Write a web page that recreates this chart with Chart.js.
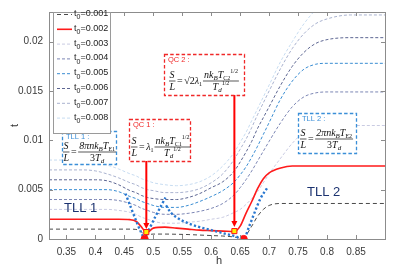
<!DOCTYPE html>
<html>
<head>
<meta charset="utf-8">
<script src="https://cdn.jsdelivr.net/npm/chart.js@4.4.0/dist/chart.umd.min.js"></script>
<style>
  body { margin: 0; background: #fff; }
</style>
</head>
<body>
<canvas id="chart" width="415" height="269"></canvas>
<script>
// h values shared by the eight t0 curves
const hGrid = [0.32, 0.38, 0.40, 0.42, 0.44, 0.46, 0.47, 0.48, 0.485, 0.49, 0.50, 0.52, 0.54, 0.56, 0.58, 0.60,
  0.62, 0.64, 0.65, 0.66, 0.67, 0.68, 0.69, 0.70, 0.72, 0.74, 0.76, 0.78, 0.80, 0.84, 0.90];

const t0Labels = ['0.001', '0.002', '0.003', '0.004', '0.005', '0.006', '0.007', '0.008'];

const curve1 = [0.001, 0.001, 0.001, 0.001, 0.001, 0.001, 0.00097, 0.0007, 0.0003, 0.0004, 0.0005, 0.0005, 0.00048, 0.00045, 0.0004, 0.00035,
  0.0003, 0.0002, 0.0001, 0.0004, 0.0013, 0.0023, 0.003, 0.0034, 0.0036, 0.0036, 0.0036, 0.0036, 0.0036, 0.0036, 0.0036];
const curve2 = [0.002, 0.002, 0.002, 0.002, 0.002, 0.00196, 0.0018, 0.0012, 0.0008, 0.0007, 0.0011, 0.0012, 0.0011, 0.001, 0.0009, 0.00085,
  0.0008, 0.00075, 0.0013, 0.0026, 0.0038, 0.0051, 0.0061, 0.0067, 0.0072, 0.0074, 0.0074, 0.0074, 0.0074, 0.0074, 0.0074];
const curve3 = [0.003, 0.003, 0.003, 0.003, 0.0029, 0.0027, 0.0025, 0.0022, 0.0021, 0.002, 0.0018, 0.0016, 0.0016, 0.0017, 0.0018, 0.002,
  0.0022, 0.0027, 0.003, 0.0035, 0.0041, 0.0048, 0.0057, 0.0066, 0.0082, 0.0097, 0.0108, 0.0113, 0.0115, 0.0115, 0.0115];
const curve4 = [0.004, 0.004, 0.004, 0.004, 0.0039, 0.0036, 0.0034, 0.0031, 0.003, 0.0029, 0.0027, 0.0025, 0.0025, 0.0026, 0.0028, 0.0031,
  0.0036, 0.0045, 0.0052, 0.006, 0.0069, 0.0079, 0.0089, 0.0099, 0.0118, 0.0134, 0.0144, 0.0148, 0.0149, 0.0149, 0.0149];
const curve5 = [0.005, 0.005, 0.005, 0.005, 0.0048, 0.0043, 0.0041, 0.0038, 0.0037, 0.0036, 0.0034, 0.0032, 0.0032, 0.0034, 0.0038, 0.0043,
  0.0049, 0.0058, 0.0065, 0.0073, 0.0083, 0.0094, 0.0106, 0.0118, 0.0142, 0.016, 0.0172, 0.0177, 0.0178, 0.0178, 0.0178];
const curve6 = [0.006, 0.006, 0.006, 0.0059, 0.0055, 0.0049, 0.0047, 0.0044, 0.0043, 0.0042, 0.0041, 0.004, 0.004, 0.0042, 0.0046, 0.0052,
  0.0058, 0.0069, 0.0078, 0.0088, 0.0099, 0.0112, 0.0123, 0.0134, 0.0156, 0.0175, 0.0189, 0.0198, 0.0202, 0.0204, 0.0204];
const curve7 = [0.007, 0.007, 0.0069, 0.0066, 0.0062, 0.0057, 0.0055, 0.0052, 0.0051, 0.005, 0.0049, 0.0047, 0.0047, 0.0048, 0.0051, 0.0057,
  0.0066, 0.0081, 0.0091, 0.0101, 0.0113, 0.0126, 0.0138, 0.015, 0.0173, 0.0193, 0.0208, 0.0218, 0.0223, 0.0227, 0.0227];
const curve8 = [0.008, 0.008, 0.0078, 0.0075, 0.0071, 0.0066, 0.0064, 0.0061, 0.006, 0.0059, 0.0057, 0.0055, 0.0054, 0.0055, 0.0058, 0.0064,
  0.0074, 0.0088, 0.0098, 0.0108, 0.012, 0.0132, 0.0144, 0.0156, 0.018, 0.02, 0.0218, 0.0232, 0.0242, 0.0249, 0.025];

// dotted phase boundaries
const qc1BoundH = [0.452, 0.46, 0.47, 0.478, 0.485, 0.493, 0.503, 0.513, 0.521];
const qc1BoundT = [0.0046, 0.0034, 0.0019, 0.0008, 0.0001, 0.001, 0.0022, 0.0033, 0.0042];
const qc2BoundH = [0.522, 0.53, 0.54, 0.56, 0.58, 0.60, 0.62, 0.64, 0.656, 0.665, 0.675, 0.685, 0.697];
const qc2BoundT = [0.0034, 0.0027, 0.0022, 0.0016, 0.0012, 0.0009, 0.0006, 0.0003, 0.0, 0.0012, 0.0027, 0.0041, 0.0052];

// critical points
const qcDotH = [0.485, 0.656];
const qcDotT = [0, 0];
const qcMarkH = [0.488, 0.640];
const qcMarkT = [0.0007, 0.0008];

const xTicks = [0.35, 0.4, 0.45, 0.5, 0.55, 0.6, 0.65, 0.7, 0.75, 0.8, 0.85];
const xTickLabels = ['0.35', '0.4', '0.45', '0.5', '0.55', '0.6', '0.65', '0.7', '0.75', '0.8', '0.85'];
const yTicks = [0, 0.005, 0.01, 0.015, 0.02];
const yTickLabels = ['0', '0.005', '0.01', '0.015', '0.02'];

const curves = [curve1, curve2, curve3, curve4, curve5, curve6, curve7, curve8];
const colors = ['#4a4a4a', '#ff1a1a', '#c9cbe2', '#7c86b4', '#3a8dd2', '#5d6692', '#a9b2cf', '#c7dcf1'];
const dashes = [[4, 3], [], [3, 2], [3, 2], [3, 2], [3, 2], [3, 2], [3, 2]];

const pts = (hs, ts) => hs.map((h, i) => ({ x: h, y: ts[i] }));

const datasets = curves.map((c, i) => ({
  label: 't0=' + t0Labels[i],
  data: pts(hGrid, c),
  borderColor: colors[i],
  borderWidth: i === 1 ? 1.6 : 1,
  borderDash: dashes[i],
  pointRadius: 0,
  cubicInterpolationMode: 'monotone',
  order: i === 1 ? 3 : 5
}));

datasets.push(
  { label: '', data: pts(qc1BoundH, qc1BoundT), borderColor: '#2a78d0', borderWidth: 2.4, borderDash: [2.2, 2.2],
    pointRadius: 0, tension: 0.3, order: 2 },
  { label: '', data: pts(qc2BoundH, qc2BoundT), borderColor: '#2a78d0', borderWidth: 2.4, borderDash: [2.2, 2.2],
    pointRadius: 0, cubicInterpolationMode: 'monotone', order: 2 },
  { label: '', data: pts(qcDotH, qcDotT), showLine: false, pointRadius: 3.6, pointBackgroundColor: '#ff1010',
    pointBorderColor: '#ff1010', order: 0 },
  { label: '', data: pts(qcMarkH, qcMarkT), showLine: false, pointStyle: 'rect', pointRadius: 3.6,
    pointBackgroundColor: '#ffee00', pointBorderColor: '#ff1010', pointBorderWidth: 1, order: 0 }
);

const FI = 'italic 10px "Liberation Serif"';
const FR = '10px "Liberation Serif"';
const FS = 'italic 7px "Liberation Serif"';
const FSR = '6px "Liberation Serif"';

function partsWidth(ctx, parts) {
  let w = 0;
  for (const p of parts) { ctx.font = p[1]; w += ctx.measureText(p[0]).width; }
  return w;
}
function drawParts(ctx, x, y, parts) {
  for (const p of parts) {
    ctx.font = p[1];
    ctx.fillText(p[0], x, y + (p[2] || 0));
    x += ctx.measureText(p[0]).width;
  }
  return x;
}
// S/L = pre * num/den
function formula(ctx, x0, yl, pre, num, den) {
  ctx.fillStyle = '#111';
  ctx.strokeStyle = '#111';
  ctx.lineWidth = 0.7;
  ctx.textBaseline = 'alphabetic';
  ctx.textAlign = 'left';
  ctx.font = FI;
  const ws = ctx.measureText('S').width;
  ctx.fillText('S', x0 + 0.5, yl - 2.5);
  ctx.fillText('L', x0 + 0.5, yl + 9.5);
  ctx.beginPath(); ctx.moveTo(x0, yl + 0.5); ctx.lineTo(x0 + ws + 1.5, yl + 0.5); ctx.stroke();
  let x = x0 + ws + 3;
  x = drawParts(ctx, x, yl + 3.5, [['=', FR]]) + 1.5;
  if (pre.length) x = drawParts(ctx, x, yl + 3.5, pre) + 1;
  const wn = partsWidth(ctx, num), wd = partsWidth(ctx, den);
  const w = Math.max(wn, wd) + 2;
  drawParts(ctx, x + (w - wn) / 2, yl - 2.5, num);
  drawParts(ctx, x + (w - wd) / 2, yl + 9.5, den);
  ctx.beginPath(); ctx.moveTo(x, yl + 0.5); ctx.lineTo(x + w, yl + 0.5); ctx.stroke();
}

function box(ctx, l, t, r, b, color, label) {
  ctx.save();
  ctx.strokeStyle = color;
  ctx.lineWidth = 1.3;
  ctx.setLineDash([3.5, 2.2]);
  ctx.fillStyle = '#fff';
  ctx.fillRect(l, t, r - l, b - t);
  ctx.strokeRect(l + 0.5, t + 0.5, r - l, b - t);
  ctx.restore();
  ctx.fillStyle = color;
  ctx.font = '7.5px "Liberation Sans"';
  ctx.textBaseline = 'middle';
  ctx.textAlign = 'left';
  ctx.fillText(label, l + 4, t + 6);
}

function arrow(ctx, x, y0, y1) {
  ctx.strokeStyle = '#ff0000';
  ctx.fillStyle = '#ff0000';
  ctx.lineWidth = 2;
  ctx.beginPath(); ctx.moveTo(x, y0); ctx.lineTo(x, y1 - 5); ctx.stroke();
  ctx.beginPath(); ctx.moveTo(x - 3, y1 - 6); ctx.lineTo(x + 3, y1 - 6); ctx.lineTo(x, y1); ctx.closePath(); ctx.fill();
}

const decor = {
  id: 'decor',
  afterDatasetsDraw(chart) {
    const { ctx, chartArea: a, scales: { x, y } } = chart;
    ctx.save();
    // frame and inward ticks
    ctx.strokeStyle = '#8c8c8c';
    ctx.lineWidth = 1;
    ctx.strokeRect(a.left + 0.5, a.top + 0.5, a.right - a.left, a.bottom - a.top);
    ctx.beginPath();
    xTicks.forEach(v => {
      const px = Math.round(x.getPixelForValue(v)) + 0.5;
      ctx.moveTo(px, a.bottom); ctx.lineTo(px, a.bottom - 4);
      ctx.moveTo(px, a.top); ctx.lineTo(px, a.top + 4);
    });
    yTicks.forEach(v => {
      const py = Math.round(y.getPixelForValue(v)) + 0.5;
      ctx.moveTo(a.left, py); ctx.lineTo(a.left + 4, py);
      ctx.moveTo(a.right, py); ctx.lineTo(a.right - 4, py);
    });
    ctx.stroke();

    // axis titles
    ctx.fillStyle = '#333';
    ctx.font = '11px "Liberation Sans"';
    ctx.textAlign = 'center';
    ctx.textBaseline = 'middle';
    ctx.fillText('h', (a.left + a.right) / 2 + 2, 261);
    ctx.save();
    ctx.translate(15, (a.top + a.bottom) / 2);
    ctx.rotate(-Math.PI / 2);
    ctx.fillText('t', 0, 0);
    ctx.restore();

    // arrows to the critical points
    const ax1 = x.getPixelForValue(qcMarkH[0]);
    const ax2 = x.getPixelForValue(qcMarkH[1]);
    arrow(ctx, ax1, 160, y.getPixelForValue(qcMarkT[0]) - 3);
    arrow(ctx, ax2, 94, y.getPixelForValue(qcMarkT[1]) - 4);

    // annotation boxes
    const blue = '#3b8fd8', red = '#f02828';
    box(ctx, 62, 131, 116, 164, blue, 'TLL 1 :');
    formula(ctx, 63, 151.5, [],
      [['8\u03c0nk', FI], ['B', FS, 2], ['T', FI], ['E1', FSR, 2]],
      [['3', FR], ['T', FI], ['d', FS, 2]]);

    box(ctx, 129, 119, 190, 161, red, 'QC 1 :');
    formula(ctx, 131, 146.5, [['\u03bb', FI], ['1', FSR, 2]],
      [['nk', FI], ['B', FS, 2], ['T', FI], ['C1', FSR, 2], ['1/2', FSR, -5]],
      [['T', FI], ['d', FS, 2], ['1/2', FSR, -5]]);

    box(ctx, 164, 54, 244, 95, red, 'QC 2 :');
    formula(ctx, 169, 80.5, [['\u221a2', FR], ['\u03bb', FI], ['1', FSR, 2]],
      [['nk', FI], ['B', FS, 2], ['T', FI], ['C2', FSR, 2], ['1/2', FSR, -5]],
      [['T', FI], ['d', FS, 2], ['1/2', FSR, -5]]);

    box(ctx, 298, 113, 356, 153, blue, 'TLL 2 :');
    formula(ctx, 300, 138.5, [],
      [['2\u03c0nk', FI], ['B', FS, 2], ['T', FI], ['E2', FSR, 2]],
      [['3', FR], ['T', FI], ['d', FS, 2]]);

    // region labels
    ctx.fillStyle = '#1c3370';
    ctx.font = '13px "Liberation Sans"';
    ctx.textAlign = 'left';
    ctx.textBaseline = 'middle';
    ctx.fillText('TLL 1', 64, 208);
    ctx.fillText('TLL 2', 307, 192);

    // legend
    const lx = 53, ly = a.top, lw = 57, lh = 121;
    ctx.fillStyle = '#fff';
    ctx.fillRect(lx, ly, lw, lh);
    ctx.strokeStyle = '#9a9a9a';
    ctx.lineWidth = 1;
    ctx.strokeRect(lx + 0.5, ly + 0.5, lw, lh);
    chart.data.datasets.slice(0, 8).forEach((ds, i) => {
      const yy = 14.5 + i * 14.8;
      ctx.save();
      ctx.strokeStyle = ds.borderColor;
      ctx.lineWidth = ds.borderWidth;
      ctx.setLineDash(ds.borderDash);
      ctx.beginPath(); ctx.moveTo(57, yy); ctx.lineTo(72, yy); ctx.stroke();
      ctx.restore();
      ctx.fillStyle = '#222';
      ctx.textAlign = 'left';
      ctx.textBaseline = 'middle';
      ctx.font = '9px "Liberation Sans"';
      ctx.fillText('t', 74, yy - 1);
      ctx.font = '7px "Liberation Sans"';
      ctx.fillText('0', 76.6, yy + 3);
      ctx.font = '9px "Liberation Sans"';
      ctx.fillText('=' + t0Labels[i], 80.5, yy - 1);
    });
    ctx.restore();
  }
};

new Chart(document.getElementById('chart'), {
  type: 'line',
  data: { datasets: datasets },
  options: {
    responsive: false,
    animation: false,
    layout: { padding: { left: 0, right: 30, top: 7, bottom: 0 } },
    scales: {
      x: {
        type: 'linear',
        min: 0.32,
        max: 0.9,
        afterBuildTicks: s => { s.ticks = xTicks.map(v => ({ value: v })); },
        afterFit: s => { s.height = 30; },
        grid: { display: false, drawTicks: false },
        border: { display: false },
        ticks: {
          callback: (v, i) => xTickLabels[i],
          color: '#3a3a3a',
          font: { family: 'Liberation Sans', size: 10 },
          padding: 7,
          maxRotation: 0,
          minRotation: 0
        }
      },
      y: {
        min: 0,
        max: 0.023,
        afterBuildTicks: s => { s.ticks = yTicks.map(v => ({ value: v })); },
        afterFit: s => { s.width = 49; },
        grid: { display: false, drawTicks: false },
        border: { display: false },
        ticks: {
          callback: (v, i) => yTickLabels[i],
          color: '#3a3a3a',
          font: { family: 'Liberation Sans', size: 10 },
          padding: 6
        }
      }
    },
    plugins: {
      legend: { display: false },
      tooltip: { enabled: false }
    }
  },
  plugins: [decor]
});
</script>
</body>
</html>
